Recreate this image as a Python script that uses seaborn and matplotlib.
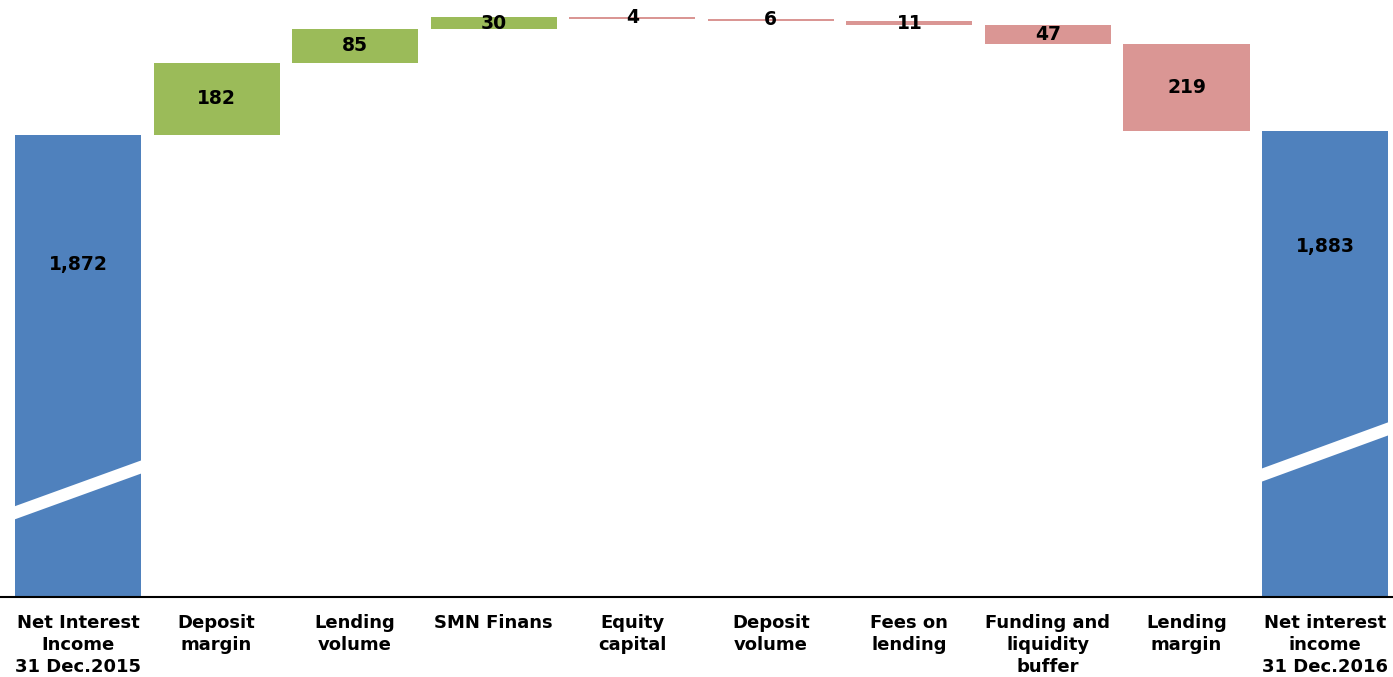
import numpy as np
import pandas as pd
import matplotlib
matplotlib.use("Agg")
import matplotlib.pyplot as plt
import seaborn as sns

# waterfall data (NOK million)
categories = [
    "Net Interest\nIncome\n31 Dec.2015", "Deposit\nmargin", "Lending\nvolume",
    "SMN Finans", "Equity\ncapital", "Deposit\nvolume", "Fees on\nlending",
    "Funding and\nliquidity\nbuffer", "Lending\nmargin", "Net interest\nincome\n31 Dec.2016",
]
changes = [1872, 182, 85, 30, -4, -6, -11, -47, -219, 1883]
value_labels = ["1,872", "182", "85", "30", "4", "6", "11", "47", "219", "1,883"]
kinds = ["total", "up", "up", "up", "down", "down", "down", "down", "down", "total"]

# axis break marks on the total bars (value at left / right edge of the slash)
break_left = [922, 1017]
break_right = [1037, 1133]

colors = {"total": "#4F81BD", "up": "#9BBB59", "down": "#DA9694"}

# build bottoms / tops
ch = np.array(changes, dtype=float)
tops, bottoms = [], []
running = 0.0
for c, k in zip(ch, kinds):
    if k == "total":
        bottoms.append(0.0)
        tops.append(c)
        running = c
    else:
        new = running + c
        bottoms.append(min(running, new))
        tops.append(max(running, new))
        running = new

df = pd.DataFrame({"cat": categories, "top": tops, "bottom": bottoms, "kind": kinds})

sns.set_style("white")
plt.rcParams["font.family"] = ["DejaVu Sans"]

fig = plt.figure(figsize=(13.93, 6.77), dpi=100)
ax = fig.add_axes([0, 1 - 597 / 677, 1, 597 / 677])

palette = [colors[k] for k in kinds]
sns.barplot(data=df, x="cat", y="top", hue="cat", palette=palette, legend=False,
            width=0.91, saturation=1, ax=ax, edgecolor="none", linewidth=0)
# white mask below floating bars
sns.barplot(data=df, x="cat", y="bottom", color="white", width=0.93,
            saturation=1, ax=ax, edgecolor="none", linewidth=0)

ymin, ymax = 710, 2212
ax.set_ylim(ymin, ymax)
ax.set_xlim(-0.563, 9.49)

# slash marks for the broken axis
thick = 33
for j, i in enumerate([0, len(categories) - 1]):
    x0, x1 = i - 0.47, i + 0.47
    yl, yr = break_left[j], break_right[j]
    slope = (yr - yl) / 0.91
    yl2, yr2 = yl - slope * 0.015, yr + slope * 0.015
    ax.fill([x0, x1, x1, x0], [yl2 - thick / 2, yr2 - thick / 2, yr2 + thick / 2, yl2 + thick / 2],
            color="white", zorder=5, lw=0)

# value labels (totals sit in the upper part of the visible bar)
total_frac = {0: 0.281, 9: 0.249}
for i, (t, b, k, lab) in enumerate(zip(tops, bottoms, kinds, value_labels)):
    if k == "total":
        y = t - total_frac[i] * (t - ymin)
    else:
        y = (t + b) / 2
    ax.text(i, y, lab, ha="center", va="center", fontsize=13.5,
            fontweight="bold", color="black", zorder=6)

ax.set_xlabel("")
ax.set_ylabel("")
ax.set_yticks([])
ax.tick_params(axis="x", length=0, pad=12, colors="black")
for lbl in ax.get_xticklabels():
    lbl.set_fontweight("bold")
    lbl.set_fontsize(13)
    lbl.set_linespacing(1.3)
    lbl.set_color("black")
for s in ["top", "left", "right"]:
    ax.spines[s].set_visible(False)
ax.spines["bottom"].set_color("black")
ax.spines["bottom"].set_linewidth(1.5)
ax.spines["bottom"].set_zorder(7)

fig.savefig("out.png", dpi=100)
